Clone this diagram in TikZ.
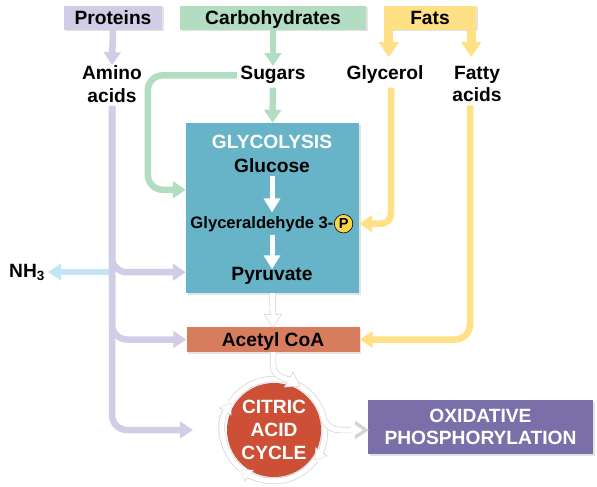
\documentclass[tikz,border=0pt]{standalone}
\usepackage{fontspec}
\setmainfont{Liberation Sans}
\usetikzlibrary{arrows.meta,calc,positioning,shadows}

\begin{document}
\begin{tikzpicture}[x=1pt,y=-1pt,
  lbl/.style={font=\fontsize{19.2}{22.5}\selectfont\bfseries, align=center},
  box/.style={lbl, inner sep=0pt, drop shadow={shadow xshift=1.5pt,shadow yshift=-1.5pt,opacity=.22}},
  oneline/.style={minimum height=24pt, text height=13.8pt, text depth=0pt},
  flow/.style={line width=6.5pt, rounded corners=15pt, -{Triangle[width=16.5pt,length=13pt]}},
  fatflow/.style={line width=9pt, -{Triangle[width=19pt,length=15pt]}},
  innerflow/.style={line width=5pt, draw=white, -{Triangle[width=16pt,length=14pt]}},
  whiteflow/.style={line width=5pt, draw=white, -{Triangle[width=15pt,length=12pt]},
    preaction={draw=black!17, line width=6.4pt, shorten >=-1.2pt, -{Triangle[width=17.5pt,length=14pt]}}},
  ringflow/.style={line width=5pt, draw=white, -{Triangle[width=12pt,length=9.5pt]},
    preaction={draw=black!17, line width=6.4pt, shorten >=-1pt, -{Triangle[width=14pt,length=11.5pt]}}},
  ringline/.style={line width=5pt, draw=white, preaction={draw=black!17, line width=6.4pt}}]
% Define colours
\definecolor{protcol}{RGB}{209,205,230}
\definecolor{carbcol}{RGB}{178,221,193}
\definecolor{fatcol}{RGB}{255,224,133}
\definecolor{glyccol}{RGB}{103,179,199}
\definecolor{acoacol}{RGB}{216,124,94}
\definecolor{caccol}{RGB}{204,79,54}
\definecolor{oxcol}{RGB}{123,111,170}
\definecolor{nhcol}{RGB}{196,229,245}
\definecolor{pcol}{RGB}{252,212,74}

\useasboundingbox (0,0) rectangle (597,487);

% Draw food sources
\node[box, oneline, fill=protcol, minimum width=98pt] (prot) at (113,18) {Proteins};
\node[box, oneline, fill=carbcol, minimum width=186pt] (carb) at (273,18) {Carbohydrates};
\node[box, oneline, fill=fatcol, minimum width=92pt] (fats) at (430,18) {Fats};

% Add building blocks
\node[lbl] (amino) at (112,84) {Amino\\acids};
\node[lbl, anchor=base] (sugars) at (273,80) {Sugars};
\node[lbl, anchor=base] (glycerol) at (385,80) {Glycerol};
\node[lbl] (fatty) at (477,84) {Fatty\\acids};

% Draw glycolysis
\node[box, fill=glyccol, minimum width=173pt, minimum height=170pt] (glyc) at (272.5,208) {};
\node[lbl, text=white, anchor=base] (gtitle) at (272,148) {GLYCOLYSIS};
\node[lbl, anchor=base] (gluc) at (272,172) {Glucose};
\node[lbl, anchor=base, font=\fontsize{16.6}{19}\selectfont\bfseries] (gald) at (262,228) {Glyceraldehyde 3-};
\node[circle, draw=black, line width=0.6pt, fill=pcol, minimum size=18.5pt, inner sep=0pt,
  font=\fontsize{14.5}{14.5}\selectfont\bfseries, right=-3pt of gald] (gp) {P};
\node[lbl, anchor=base] (pyr) at (272,280) {Pyruvate};

% Draw acetyl CoA, cycle and oxidation
\node[box, oneline, fill=acoacol, minimum width=173pt, minimum height=25pt] (acoa) at (273,339.5) {Acetyl CoA};
\node[box, circle, fill=caccol, text=white, minimum size=94pt, font=\fontsize{19.2}{23}\selectfont\bfseries] (cac) at (274,430) {CITRIC\\ACID\\CYCLE};
\node[box, fill=oxcol, text=white, minimum width=225pt, minimum height=54pt, font=\fontsize{19.2}{22}\selectfont\bfseries] (oxph) at (480.5,427) {OXIDATIVE\\PHOSPHORYLATION};

% Add ammonia
\node[lbl, anchor=base west, inner sep=0pt] (nh) at (9,277) {NH\textsubscript{3}};

% Draw arrows from the sources
\draw[flow, draw=protcol, shorten >=-3pt] (prot.south) -- (amino.north);
\draw[flow, draw=carbcol, shorten >=-3pt] (carb.south) -- (sugars.north);
\draw[fatflow, draw=fatcol] ($(fats.south west)+(5,-1)$) -- ++(0,28);
\draw[fatflow, draw=fatcol] ($(fats.south east)+(-5,-1)$) -- ++(0,28);

% Sugars into glycolysis
\draw[flow, draw=carbcol] (sugars.west) -| ($(glyc.north west)+(-38,67)$) -- ($(glyc.north west)+(0,67)$);
\draw[flow, draw=carbcol] (sugars.south) -- (glyc.north);

% Glycerol and fatty acids
\draw[flow, draw=fatcol, rounded corners=10pt] ($(glycerol.south)+(6,0)$) |- (glyc.east |- gp);
\draw[flow, draw=fatcol] ($(fatty.south)+(-7,0)$) |- (acoa.east);

% Amino acids branches
\draw[flow, draw=nhcol, shorten >=3pt] (amino.south |- nh.east) -- (nh.east);
\draw[flow, draw=protcol] (amino.south) |- ($(glyc.south west)+(0,-21)$);
\draw[flow, draw=protcol] (amino.south) |- (acoa.west);
\draw[flow, draw=protcol] (amino.south) |- ($(cac.center)+(-81,0)$);

% Steps inside glycolysis
\draw[innerflow] (gluc.south) -- (gluc.south |- gald.north);
\draw[innerflow, shorten >=-6pt] (gluc.south |- gald.south) -- (pyr.north);

% Pyruvate to acetyl CoA
\draw[whiteflow] (glyc.south) -- (acoa.north);

% Cycle ring
\foreach \a/\b in {-60/36, 36/130, 130/212}
  \draw[ringflow] ($(cac.center)+(\a:51)$) arc[start angle=\a, end angle=\b, radius=51];
\draw[ringline] ($(cac.center)+(212:51)$) arc[start angle=212, end angle=300, radius=51];

% Acetyl CoA into the cycle
\draw[whiteflow] (acoa.south) -- ++(0,13) .. controls +(0,12) and +(-12,-7) .. ($(cac.center)+(-60:51)$);

% Out to oxidative phosphorylation
\draw[whiteflow, shorten >=5pt] ($(cac.center)+(-12:51)$) .. controls +(4,8) and +(-10,0) .. ($(cac.center)+(68,0)$) -- (oxph.west |- cac.center);
\end{tikzpicture}
\end{document}
